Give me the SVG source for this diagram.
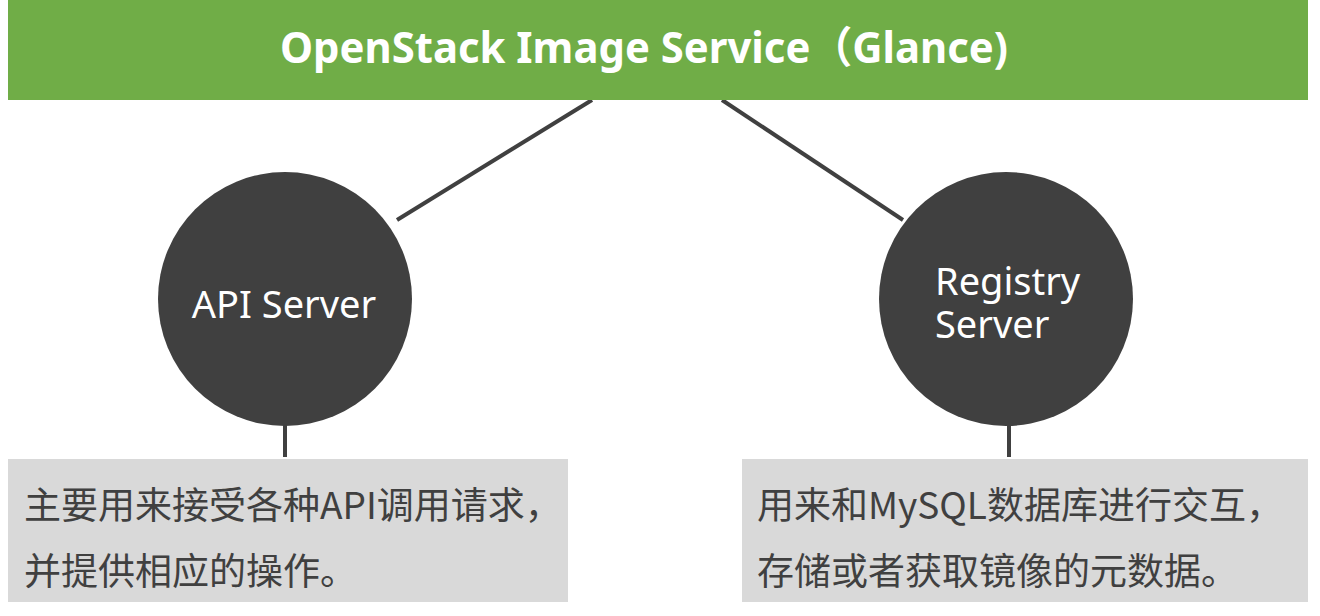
<svg xmlns="http://www.w3.org/2000/svg" width="1320" height="616" viewBox="0 0 1320 616">
  <style>
    .title { font-family: "Noto Sans", "Noto Sans CJK SC", sans-serif; font-weight: bold; font-size: 43px; fill: #FFFFFF; }
    .node { fill: #404040; }
    .nlabel { font-family: "Noto Sans", "Noto Sans CJK SC", sans-serif; font-size: 38px; fill: #FFFFFF; }
    .desc { fill: #D9D9D9; }
    .dtext { font-family: "Noto Sans CJK SC", "Noto Sans", sans-serif; font-size: 37px; fill: #404040; }
    .conn { stroke: #404040; stroke-width: 4; fill: none; }
  </style>
  <rect width="1320" height="616" fill="#FFFFFF"/>
  <g id="connectors">
    <line class="conn" x1="592" y1="100" x2="397" y2="220"/>
    <line class="conn" x1="722" y1="100" x2="903" y2="220"/>
    <line class="conn" x1="285" y1="425" x2="285" y2="457"/>
    <line class="conn" x1="1009" y1="425" x2="1009" y2="457"/>
  </g>
  <g id="glance">
    <rect x="8" y="0" width="1300" height="100" fill="#70AD47"/>
    <text class="title" x="280" y="63" textLength="728" lengthAdjust="spacingAndGlyphs">OpenStack Image Service（Glance)</text>
  </g>
  <g id="api-server">
    <circle class="node" cx="285" cy="299" r="127"/>
    <text class="nlabel" x="284" y="318" text-anchor="middle">API Server</text>
  </g>
  <g id="registry-server">
    <circle class="node" cx="1006" cy="299" r="127"/>
    <text class="nlabel"><tspan x="935" y="295">Registry</tspan><tspan x="935" y="338">Server</tspan></text>
  </g>
  <g id="api-desc">
    <rect class="desc" x="8" y="459" width="560" height="143"/>
    <text class="dtext" x="24" y="519">主要用来接受各种API调用请求，</text>
    <text class="dtext" x="24" y="585">并提供相应的操作。</text>
  </g>
  <g id="registry-desc">
    <rect class="desc" x="742" y="459" width="566" height="143"/>
    <text class="dtext" x="757" y="519">用来和MySQL数据库进行交互，</text>
    <text class="dtext" x="757" y="585">存储或者获取镜像的元数据。</text>
  </g>
</svg>
